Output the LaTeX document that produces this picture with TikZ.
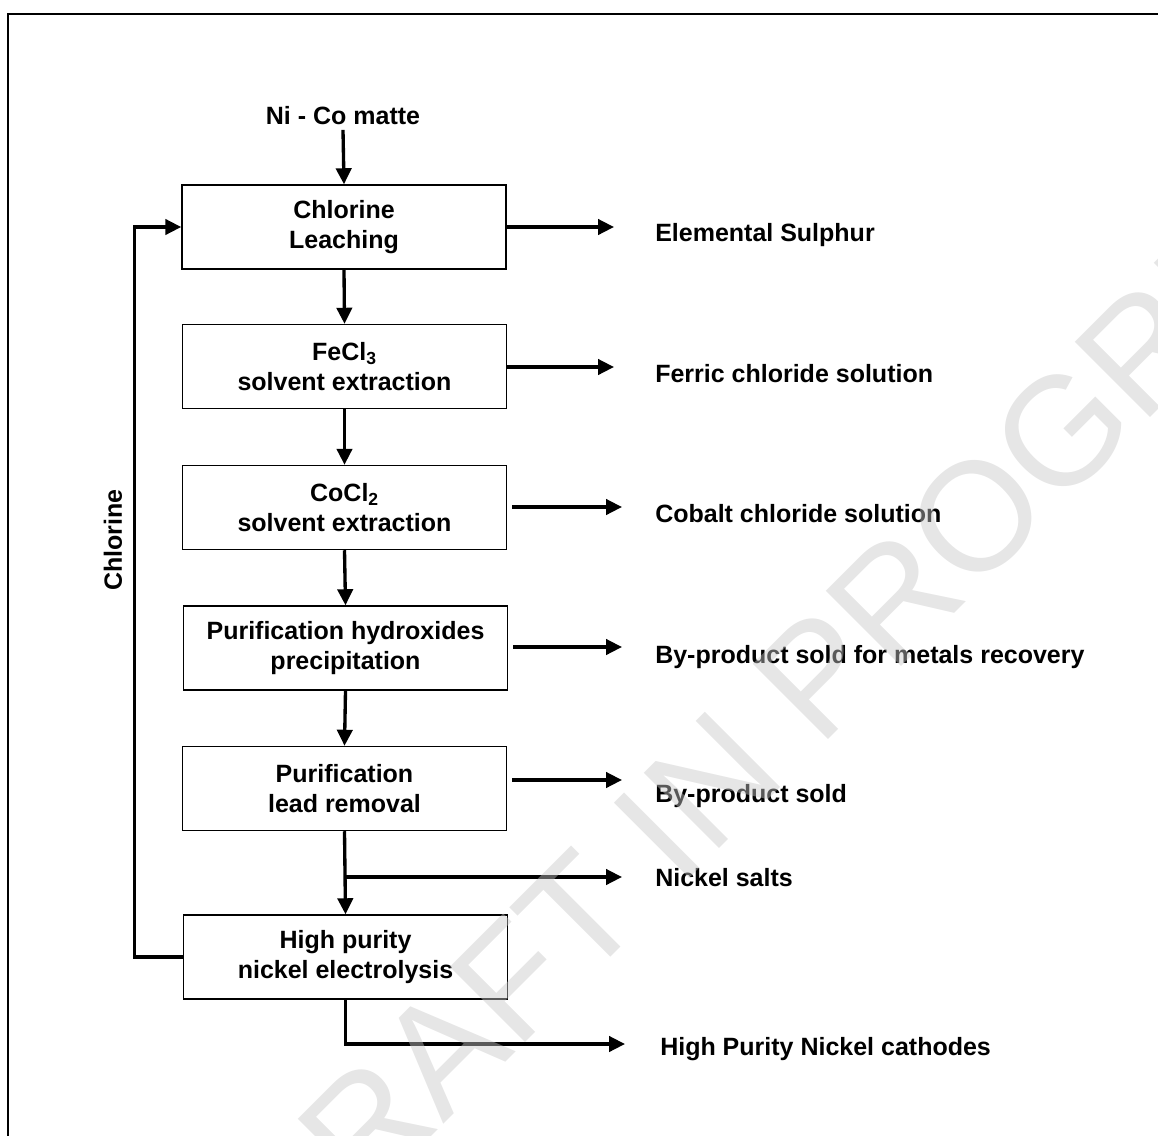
\documentclass[tikz,border=0pt]{standalone}
\usepackage{fontspec}
\setmainfont{Liberation Sans}
\usetikzlibrary{arrows.meta}
\begin{document}
\begin{tikzpicture}[x=0.75pt,y=-0.75pt,
  every node/.style={font=\fontsize{18.75}{22.5}\selectfont\bfseries},
  procbox/.style={draw,line width=1.1pt,minimum width=243pt,minimum height=63pt,align=center,inner sep=0pt},
  outlabel/.style={anchor=base west,inner sep=0pt},
  flow/.style={line width=2.5pt,-{Triangle[length=12pt,width=11.5pt]}},
  frameline/.style={line width=1.8pt},
  watermark/.style={rotate=45,anchor=base west,text=black!22,text opacity=0.45,inner sep=0pt,
    font=\fontsize{116}{116}\selectfont\mdseries}
]
\useasboundingbox (0,0) rectangle (1158,1136);
\draw[frameline] (8,1140) -- (8,14) -- (1162,14);

% feed
\node (feed) at (343,116) {Ni - Co matte};

% process boxes
\node[procbox] (b1) at (344,227)   {Chlorine\\Leaching};
\node[procbox] (b2) at (344.5,366.5) {FeCl\textsubscript{3}\\solvent extraction};
\node[procbox] (b3) at (344.5,507.5) {CoCl\textsubscript{2}\\solvent extraction};
\node[procbox] (b4) at (345.5,648) {Purification hydroxides\\precipitation};
\node[procbox] (b5) at (344.5,788.5) {Purification\\lead removal};
\node[procbox] (b6) at (345.5,957) {High purity\\nickel electrolysis};

% output labels
\node[outlabel] (o1) at (655,241) {Elemental Sulphur};
\node[outlabel] (o2) at (655,382) {Ferric chloride solution};
\node[outlabel] (o3) at (655,522) {Cobalt chloride solution};
\node[outlabel] (o4) at (655,663) {By-product sold for metals recovery};
\node[outlabel] (o5) at (655,802) {By-product sold};
\node[outlabel] (o6) at (655,886) {Nickel salts};
\node[outlabel] (o7) at (660,1055) {High Purity Nickel cathodes};

% arrow tips
\coordinate (t1) at (614,227);
\coordinate (t2) at (614,367);
\coordinate (t3) at (622,507);
\coordinate (t4) at (622,647);
\coordinate (t5) at (622,780);
\coordinate (t6) at (622,877);
\coordinate (t7) at (625,1044);

% main flow
\draw[flow] (feed.south) -- (b1.north);
\draw[flow] (b1.south) -- (b2.north);
\draw[flow] (b2.south) -- (b3.north);
\draw[flow] (b3.south) -- (b4.north);
\draw[flow] (b4.south) -- (b5.north);
\draw[flow] (b5.south) -- (b6.north);

% side outputs
\draw[flow] (b1.east) -- (t1);
\draw[flow] (b2.east |- t2) -- (t2);
\draw[flow] ([xshift=3.75pt]b3.east |- t3) -- (t3);
\draw[flow] ([xshift=3.75pt]b4.east |- t4) -- (t4);
\draw[flow] ([xshift=3.75pt]b5.east |- t5) -- (t5);
\draw[flow] (b5.south |- t6) -- (t6);
\draw[flow] (b6.south) |- (t7);

% chlorine recycle
\draw[flow] (b6.west) -- ++(-48,0) |- (b1.west);
\node[rotate=90] (cl) at (113,540) {Chlorine};

% watermark
\node[watermark] (wm) at (285,1283) {DRAFT IN PROGRESS};
\end{tikzpicture}
\end{document}
